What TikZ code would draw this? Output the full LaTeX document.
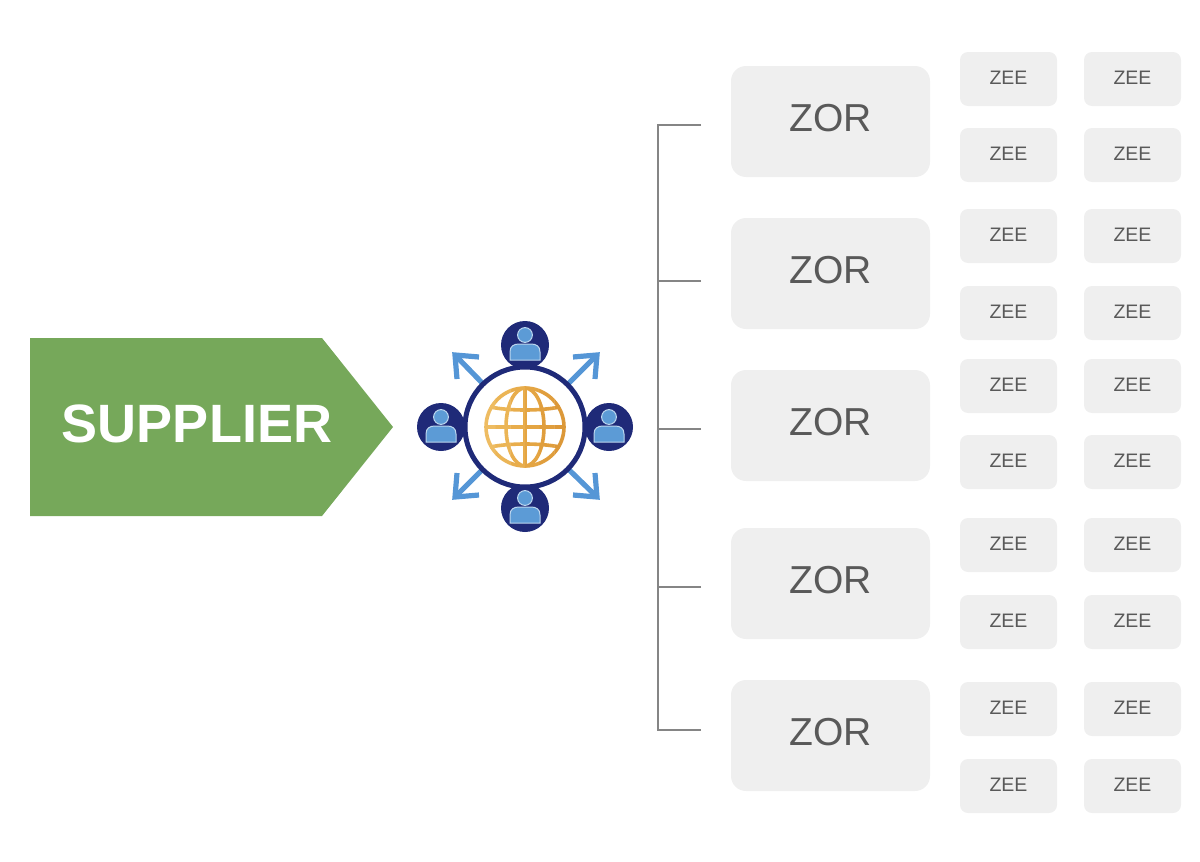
\documentclass[tikz,border=0pt]{standalone}
\usepackage{fontspec}
\setmainfont{Liberation Sans}
\definecolor{boxgray}{HTML}{EFEFEF}
\definecolor{txtgray}{HTML}{595959}
\definecolor{linegray}{HTML}{858585}
\definecolor{supgreen}{HTML}{76A85A}
\definecolor{navy}{HTML}{1F2A78}
\definecolor{arrowblue}{HTML}{5596D6}
\definecolor{personblue}{HTML}{5C9BD6}
\definecolor{personedge}{HTML}{BCD6EE}
\tikzset{
 zorbox/.style={rectangle,rounded corners=7.5pt,fill=boxgray,minimum width=99.5pt,minimum height=55.5pt,inner sep=0pt,
   label={[text=txtgray,font=\fontsize{19.5}{20}\selectfont,yshift=1.5pt,inner sep=0pt]center:ZOR}},
 zeebox/.style={rectangle,rounded corners=4pt,fill=boxgray,minimum width=48.5pt,minimum height=27pt,inner sep=0pt,
   label={[text=txtgray,font=\fontsize{9.75}{10}\selectfont,yshift=0.7pt,inner sep=0pt]center:ZEE}},
 supplierarrow/.style={fill=supgreen},
 trunk/.style={draw=linegray,line width=0.6pt},
 spoke/.style={draw=arrowblue,line width=2.6pt},
 person/.style={circle,fill=navy,minimum size=24pt,inner sep=0pt},
}
\newcommand{\globelines}[1]{%
 \begin{scope}[draw=#1,line width=1.8pt]
  \draw (0,0) circle[radius=19.5pt];
  \draw (0,0) ellipse[x radius=9.5pt,y radius=19.5pt];
  \draw (0,-40) -- (0,40);
  \draw (-40,0) -- (40,0);
  \foreach \s in {-1,1}{
   \draw (-35,\s*20) .. controls (-15,\s*16) and (15,\s*16) .. (35,\s*20);
  }
 \end{scope}}
\begin{document}
\begin{tikzpicture}[x=0.5pt,y=-0.5pt]
\useasboundingbox (0,0) rectangle (1200,862);
% supplier
\fill[supplierarrow] (30,338) -- (322,338) -- (393,427) -- (322,516) -- (30,516) -- cycle;
\node[inner sep=0pt,text=white,font=\bfseries\fontsize{27}{28}\selectfont] (suplabel) at (197,424) {SUPPLIER};
% arrows
\node[circle,minimum size=60pt,inner sep=0pt] (ring) at (525,427) {};
\foreach \n/\tx/\ty/\sx/\sy in {ul/455/355/1/1,ur/597/355/-1/1,ll/455/497/1/-1,lr/597/497/-1/-1}{
 \coordinate (tip\n) at (\tx,\ty);
 \draw[spoke] (ring) -- (tip\n);
 \draw[spoke,line join=miter] ([shift={(\sx*24,\sy*2)}]tip\n) -- (tip\n) -- ([shift={(\sx*2,\sy*24)}]tip\n);
}
% persons
\foreach \n/\x/\y in {top/525/345,left/441/427,right/609/427,bot/525/508}{
 \node[person] (\n) at (\x,\y) {};
 \begin{scope}[shift={(\x,\y)}]
  \fill[personblue,draw=personedge,line width=0.5pt] (-15,15) -- (-15,7) .. controls (-15,1) and (-11,-1) .. (-6,-1) -- (6,-1) .. controls (11,-1) and (15,1) .. (15,7) -- (15,15) -- cycle;
  \fill[personblue,draw=personedge,line width=0.5pt] (0,-10) circle[radius=3.7pt];
 \end{scope}
}
% ring
\node[circle,draw=navy,fill=white,line width=2.5pt,minimum size=60pt,inner sep=0pt] (ringb) at (525,427) {};
% globe
\begin{scope}[shift={(525,427)}]
 \foreach \i/\c in {0/EEBC62,1/EBB556,2/E8AD4C,3/E4A543,4/E09E3D,5/DC9838}{
  \definecolor{gc}{HTML}{\c}
  \begin{scope}
   \clip (-44+\i*14.67,-44) rectangle (-44+\i*14.67+15,44);
   \globelines{gc}
  \end{scope}
 }
\end{scope}
% ZOR + ZEE
\foreach \n/\zy/\a/\b in {1/121.5/79/155,2/273.5/236/313,3/425.5/386/462,4/583.5/545/622,5/735.5/709/786}{
 \node[zorbox] (zor\n) at (830.5,\zy) {};
 \node[zeebox] (zee\n a) at (1008.5,\a) {};
 \node[zeebox] (zee\n b) at (1132.5,\a) {};
 \node[zeebox] (zee\n c) at (1008.5,\b) {};
 \node[zeebox] (zee\n d) at (1132.5,\b) {};
}
% connectors
\coordinate (t1) at (658,125);
\coordinate (t5) at (658,730);
\coordinate (e1) at (701,125);
\coordinate (e2) at (701,281);
\coordinate (e3) at (701,429);
\coordinate (e4) at (701,587);
\coordinate (e5) at (701,730);
\draw[trunk] (e1) -- (t1) -- (t5) -- (e5);
\foreach \k in {2,3,4}{ \draw[trunk] (e\k) -- (e\k -| t1); }
\end{tikzpicture}
\end{document}
